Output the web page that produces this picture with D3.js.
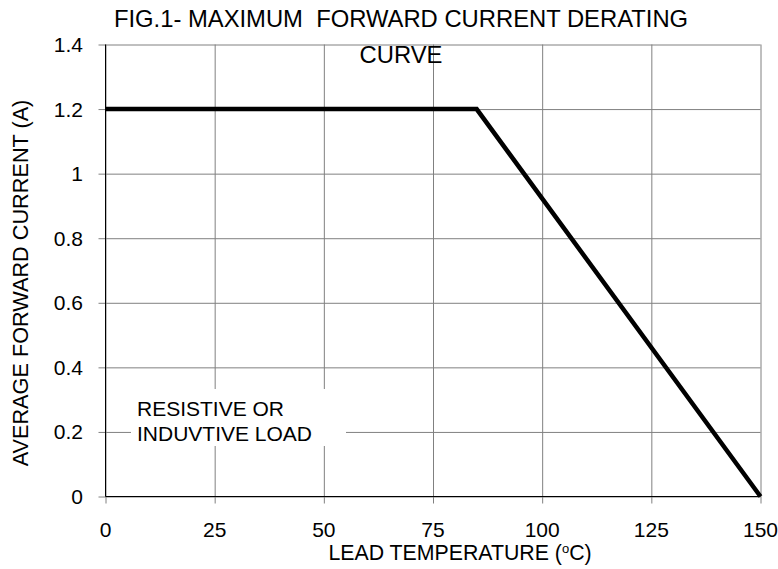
<!DOCTYPE html>
<html>
<head>
<meta charset="utf-8">
<script src="https://cdn.jsdelivr.net/npm/d3@7"></script>
<style>
  html, body { margin: 0; padding: 0; background: #fff; }
  svg { display: block; font-family: Arial, "Liberation Sans", sans-serif; }
</style>
</head>
<body>
<svg id="chart" width="778" height="569"></svg>
<script>
// derating curve: flat at 1.2 A up to 85 C, then linear down to zero at 150 C
const temperature = [0, 85, 150];
const current = [1.2, 1.2, 0];

const xTicks = [0, 25, 50, 75, 100, 125, 150];
const yTicks = [0, 0.2, 0.4, 0.6, 0.8, 1, 1.2, 1.4];

const titleLines = ['FIG.1- MAXIMUM  FORWARD CURRENT DERATING', 'CURVE'];
const noteLines = ['RESISTIVE OR', 'INDUVTIVE LOAD'];

const svg = d3.select('#chart');

const x = d3.scaleLinear().domain([0, 150]).range([105.5, 760.5]);
const y = d3.scaleLinear().domain([0, 1.4]).range([496.5, 44.5]);

const GRID = '#808080';

// ---- grid, drawn as long ticks so they poke past the axes ----
const gx = svg.append('g')
    .attr('transform', `translate(0,${y(0)})`)
    .call(d3.axisBottom(x).tickValues(xTicks).tickSize(-(y(0) - y(1.4))).tickFormat(''));
gx.select('.domain').remove();
gx.selectAll('.tick line').attr('stroke', GRID).attr('y2', 7).attr('y1', -(y(0) - y(1.4)));

const gy = svg.append('g')
    .attr('transform', `translate(${x(0)},0)`)
    .call(d3.axisLeft(y).tickValues(yTicks).tickSize(-(x(150) - x(0))).tickFormat(''));
gy.select('.domain').remove();
gy.selectAll('.tick line').attr('stroke', GRID).attr('x1', -7).attr('x2', x(150) - x(0));

// axis lines
svg.append('line').attr('x1', x(0)).attr('x2', x(0)).attr('y1', y(1.4)).attr('y2', y(0))
    .attr('stroke', '#000');
svg.append('line').attr('x1', x(0)).attr('x2', x(150)).attr('y1', y(0)).attr('y2', y(0))
    .attr('stroke', '#000');

// tick labels
svg.append('g').selectAll('text').data(xTicks).join('text')
    .attr('x', (d) => x(d))
    .attr('y', 537)
    .attr('text-anchor', 'middle')
    .attr('font-size', 21)
    .text((d) => d);

svg.append('g').selectAll('text').data(yTicks).join('text')
    .attr('x', 83)
    .attr('y', (d) => y(d))
    .attr('dy', '0.36em')
    .attr('text-anchor', 'end')
    .attr('font-size', 21)
    .text((d) => d3.format('~g')(d));

// ---- annotation box hides the grid underneath ----
svg.append('rect')
    .attr('x', 131).attr('y', 389)
    .attr('width', 215).attr('height', 57)
    .attr('fill', '#fff');
svg.append('g').selectAll('text').data(noteLines).join('text')
    .attr('x', 137)
    .attr('y', (d, i) => 416 + i * 25)
    .attr('font-size', 21)
    .text((d) => d);

// ---- the curve ----
const pts = temperature.map((t, i) => [t, current[i]]);
svg.append('path')
    .datum(pts)
    .attr('fill', 'none')
    .attr('stroke', '#000')
    .attr('stroke-width', 4.5)
    .attr('stroke-linejoin', 'miter')
    .attr('d', d3.line().x((d) => x(d[0])).y((d) => y(d[1])));

// ---- titles ----
svg.append('g').selectAll('text').data(titleLines).join('text')
    .attr('x', 401)
    .attr('y', (d, i) => 27 + i * 36)
    .attr('text-anchor', 'middle')
    .attr('font-size', 23.8)
    .attr('xml:space', 'preserve')
    .style('white-space', 'pre')
    .text((d) => d);

const xt = svg.append('text')
    .attr('x', 460)
    .attr('y', 560)
    .attr('text-anchor', 'middle')
    .attr('font-size', 21.3);
xt.append('tspan').text('LEAD TEMPERATURE (');
xt.append('tspan').attr('font-size', 13).attr('dy', -7).text('o');
xt.append('tspan').attr('dy', 7).text('C)');

svg.append('text')
    .attr('transform', 'translate(28,283) rotate(-90)')
    .attr('text-anchor', 'middle')
    .attr('font-size', 21.7)
    .text('AVERAGE FORWARD CURRENT (A)');
</script>
</body>
</html>
